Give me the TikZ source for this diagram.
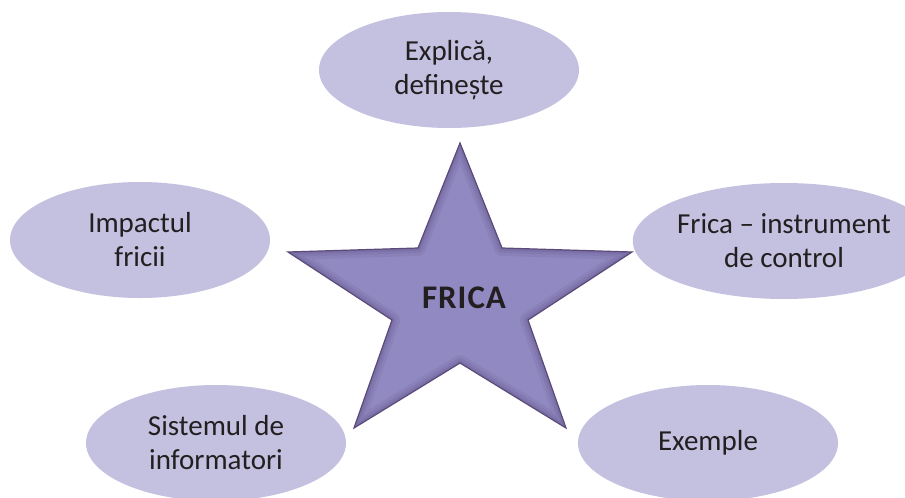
\documentclass[tikz,border=0pt]{standalone}
\usepackage{fontspec}
\setmainfont{Carlito}
\usetikzlibrary{shapes.geometric}
\definecolor{ellfill}{HTML}{C3C0E0}
\definecolor{starfill}{HTML}{9189C1}
\definecolor{starline}{HTML}{5B4A78}
\definecolor{starshade}{HTML}{4E4377}
\definecolor{txt}{HTML}{231F20}
\tikzset{
  bubble/.style={ellipse, fill=ellfill, draw=none, minimum width=260pt, minimum height=116pt,
    inner sep=0pt, align=center, text=txt, font=\fontsize{29}{34}\selectfont},
  startext/.style={text=txt, font=\fontsize{33}{38}\selectfont\bfseries\addfontfeature{LetterSpace=3}}
}
\begin{document}
\begin{tikzpicture}[x=1pt,y=-1pt]
\useasboundingbox (0,0) rectangle (905,498);
\node[bubble] (top) at (449,70) {Explică,\\definește};
\node[bubble] (left) at (140,240) {Impactul\\fricii};
\node[bubble] (right) at (784,241) {Frica – instrument\\de control};
\node[bubble] (bl) at (216,443) {Sistemul de\\informatori};
\node[bubble] (br) at (708,443) {Exemple};
\def\starpath{(460,143) -- (502,248) -- (632,252) -- (528,320) -- (566,428) -- (460,363) -- (354,428) -- (392,320) -- (288,252) -- (418,248) -- cycle}
\fill[starfill] \starpath;
\begin{scope}
\clip \starpath;
\draw[starshade, opacity=0.10, line width=16pt, line join=round] \starpath;
\draw[starshade, opacity=0.12, line width=10pt, line join=round] \starpath;
\draw[starshade, opacity=0.15, line width=5pt, line join=round] \starpath;
\end{scope}
\draw[starline, line width=1.2pt, line join=miter] \starpath;
\node[startext] (frica) at (464,298) {FRICA};
\end{tikzpicture}
\end{document}
